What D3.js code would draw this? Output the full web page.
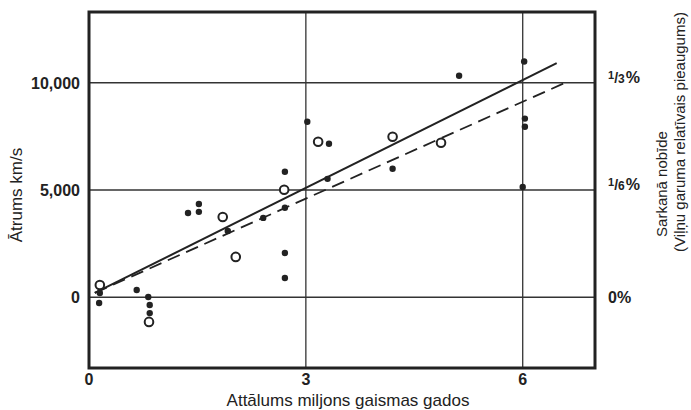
<!DOCTYPE html>
<html>
<head>
<meta charset="utf-8">
<title>Hubble</title>
<style>
  body { margin: 0; background: #fff; }
  text { font-family: "Liberation Sans", Arial, sans-serif; fill: #222; }
</style>
</head>
<body>
<svg width="691" height="410"></svg>
<script src="https://cdn.jsdelivr.net/npm/d3@7"></script>
<script>
// dati: attālums (milj. gaismas gadu), ātrums (km/s)
const filledPts = [
  [0.14, -270], [0.15, 200], [0.66, 340], [0.82, 10], [0.84, -360], [0.84, -740],
  [1.37, 3930], [1.52, 4350], [1.52, 3980], [1.92, 3090], [2.41, 3700],
  [2.71, 5850], [2.71, 4170], [2.71, 2060], [2.71, 900],
  [3.02, 8180], [3.32, 7160], [3.30, 5520], [4.20, 5990], [5.12, 10330],
  [6.02, 10990], [6.03, 8330], [6.03, 7950], [6.00, 5140]
]
const openPts = [
  [0.15, 570], [0.83, -1150], [1.85, 3740], [2.03, 1880],
  [2.70, 5010], [3.17, 7250], [4.20, 7480], [4.87, 7200]
]
const solidFit = [[0.08, 200], [6.47, 10920]]
const dashedFit = [[0.08, 200], [6.61, 10035]]

const xTicks = [0, 3, 6]
const yTicks = [0, 5000, 10000]
const yTickLabels = ["0", "5,000", "10,000"]
const rightTicks = [["0", ""], ["1", "6"], ["1", "3"]]   // 0%, 1/6%, 1/3%

const xTitle = "Attālums miljons gaismas gados"
const yTitle = "Ātrums km/s"
const rTitle1 = "Sarkanā nobīde"
const rTitle2 = "(Viļņu garuma relatīvais pieaugums)"

const svg = d3.select("svg")
const L = 89, R = 595, T = 12, B = 368

const x = d3.scaleLinear().domain([0, 7]).range([L, R])
const y = d3.scaleLinear().domain([-3300, 13300]).range([B, T])

// režģis
svg.append("g").selectAll("line").data(xTicks.filter(d => d > 0)).join("line")
  .attr("x1", d => x(d)).attr("x2", d => x(d)).attr("y1", T).attr("y2", B)
  .attr("stroke", "#333").attr("stroke-width", 1.3)
svg.append("g").selectAll("line").data(yTicks).join("line")
  .attr("x1", L).attr("x2", R).attr("y1", d => y(d)).attr("y2", d => y(d))
  .attr("stroke", "#333").attr("stroke-width", 1.3)

// rāmis
svg.append("rect").attr("x", L).attr("y", T).attr("width", R - L).attr("height", B - T)
  .attr("fill", "none").attr("stroke", "#222").attr("stroke-width", 3)

// taisnes
const line = d3.line().x(d => x(d[0])).y(d => y(d[1]))
svg.append("path").attr("d", line(solidFit))
  .attr("fill", "none").attr("stroke", "#222").attr("stroke-width", 2)
svg.append("path").attr("d", line(dashedFit))
  .attr("fill", "none").attr("stroke", "#222").attr("stroke-width", 1.8)
  .attr("stroke-dasharray", "13,7")

// punkti
svg.append("g").selectAll("circle").data(filledPts).join("circle")
  .attr("cx", d => x(d[0])).attr("cy", d => y(d[1])).attr("r", 3.2)
  .attr("fill", "#222")
svg.append("g").selectAll("circle").data(openPts).join("circle")
  .attr("cx", d => x(d[0])).attr("cy", d => y(d[1])).attr("r", 4.3)
  .attr("fill", "#fff").attr("stroke", "#222").attr("stroke-width", 2)

// ass etiķetes
svg.append("g").selectAll("text").data(xTicks).join("text")
  .attr("x", d => x(d)).attr("y", 385)
  .attr("text-anchor", "middle").attr("font-size", 16).attr("font-weight", "bold")
  .text(d => d)
svg.append("g").selectAll("text").data(yTicks).join("text")
  .attr("x", 80).attr("y", d => y(d)).attr("dy", "0.36em")
  .attr("text-anchor", "end").attr("font-size", 16).attr("font-weight", "bold")
  .text((d, i) => yTickLabels[i])

// labā ass: daļas
const rt = svg.append("g").selectAll("text").data(yTicks).join("text")
  .attr("x", 608).attr("y", d => y(d)).attr("dy", "0.36em")
  .attr("font-size", 16).attr("font-weight", "bold")
rt.each(function (d, i) {
  const t = d3.select(this), f = rightTicks[i]
  if (!f[1]) { t.text(f[0] + "%"); return }
  t.append("tspan").attr("font-size", 11).attr("dy", -4).text(f[0])
  t.append("tspan").attr("font-size", 14).attr("dy", 4).text("/")
  t.append("tspan").attr("font-size", 12).text(f[1])
  t.append("tspan").attr("dx", 1).text("%")
})

// virsraksti
svg.append("text").attr("x", (L + R) / 2 + 6).attr("y", 406)
  .attr("text-anchor", "middle").attr("font-size", 17).text(xTitle)
svg.append("text").attr("transform", "translate(22,195) rotate(-90)")
  .attr("text-anchor", "middle").attr("font-size", 17).text(yTitle)
svg.append("text").attr("transform", "translate(667,184) rotate(-90)")
  .attr("text-anchor", "middle").attr("font-size", 15).text(rTitle1)
svg.append("text").attr("transform", "translate(685,132) rotate(-90)")
  .attr("text-anchor", "middle").attr("font-size", 15).text(rTitle2)
</script>
</body>
</html>
